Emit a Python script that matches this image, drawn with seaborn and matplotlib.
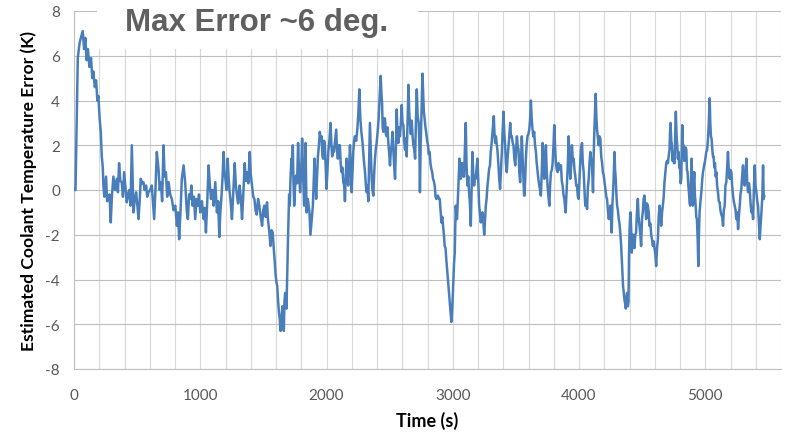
import matplotlib
matplotlib.use("Agg")
import matplotlib.pyplot as plt
import matplotlib.patches as mpatches
from matplotlib.ticker import MultipleLocator
import seaborn as sns
import pandas as pd

# Estimated coolant temperature error over the drive cycle
time_s = [
    0, 12, 30, 45, 69, 80, 90, 100, 110, 122,
    135, 145, 153, 165, 175, 185, 193, 203, 212, 220,
    228, 233, 240, 254, 262, 272, 281, 291, 300, 312,
    325, 339, 348, 357, 367, 378, 388, 397, 408, 418,
    428, 437, 448, 458, 471, 480, 492, 502, 511, 520,
    529, 540, 550, 560, 571, 580, 590, 603, 616, 626,
    635, 645, 656, 670, 679, 688, 698, 709, 718, 728,
    738, 749, 762, 775, 788, 802, 815, 824, 833, 844,
    854, 868, 881, 894,
    902, 912, 921, 930, 939, 950, 960, 971, 981, 990,
    1000, 1013, 1027, 1036, 1045, 1055, 1066, 1075, 1085, 1096,
    1106, 1119, 1132, 1142, 1151, 1159, 1167, 1176, 1185, 1192,
    1199, 1208, 1217, 1225, 1233, 1242, 1251, 1262, 1273, 1282,
    1291, 1300, 1312, 1322, 1331, 1341, 1352, 1361, 1370, 1381,
    1392, 1400, 1410, 1420, 1429, 1438, 1447, 1458, 1468, 1479,
    1490, 1499, 1508, 1518, 1529, 1536, 1542, 1549, 1556, 1565,
    1574, 1582, 1590, 1597, 1603, 1610, 1617, 1624, 1630, 1636,
    1640, 1646, 1651, 1657, 1662, 1667, 1672, 1678, 1683, 1687,
    1691, 1695, 1699, 1704, 1709, 1715, 1722, 1728, 1733, 1738,
    1744, 1752, 1759, 1767, 1775, 1783, 1791, 1799, 1807, 1815,
    1823, 1834, 1842, 1852, 1865, 1873, 1892, 1905, 1912, 1918,
    1925, 1932, 1940, 1947, 1955, 1961, 1968, 1974, 1981, 1987,
    1994, 2000, 2007, 2014, 2023, 2032, 2039, 2045, 2052, 2059,
    2068, 2077, 2083, 2090, 2098, 2106, 2112, 2119, 2126, 2133,
    2140, 2146, 2152, 2159, 2165, 2172, 2179, 2186, 2192, 2199,
    2206, 2212, 2219, 2225, 2235, 2244, 2252, 2260, 2268, 2276,
    2284, 2291, 2298, 2305, 2312, 2318, 2325, 2331, 2338, 2344,
    2351, 2358, 2364, 2371, 2378, 2384, 2390, 2397, 2405, 2413,
    2421, 2429, 2435, 2440, 2445, 2450, 2456, 2463, 2470, 2477,
    2483, 2490, 2497, 2503, 2510, 2516, 2523, 2530, 2537, 2543,
    2550, 2556, 2562, 2569, 2575, 2582, 2589, 2596, 2602, 2609,
    2615, 2622, 2628, 2635, 2642, 2649, 2655, 2662, 2668, 2675,
    2682, 2688, 2695, 2702, 2708, 2715, 2722, 2730, 2735, 2740,
    2746, 2754, 2760, 2765, 2771, 2777, 2784, 2791, 2797, 2804,
    2810, 2817, 2823, 2830, 2837, 2844, 2850, 2857, 2864, 2870,
    2877, 2883, 2890, 2897, 2903, 2910, 2917, 2923, 2930, 2936,
    2943, 2949, 2956, 2963, 2970, 2976, 2982, 2989, 2993, 2997,
    3001, 3005, 3010, 3016, 3020, 3024, 3029, 3034, 3040, 3045,
    3049, 3053, 3058, 3063, 3070, 3076, 3083, 3090, 3096, 3103,
    3109, 3116, 3123, 3129, 3136, 3143, 3149, 3156, 3162, 3169,
    3176, 3182, 3189, 3196, 3202, 3209, 3215, 3222, 3228, 3235,
    3242, 3249, 3255, 3262, 3268, 3275, 3281, 3288, 3295, 3301,
    3308, 3315, 3320, 3325, 3330, 3336, 3342, 3349, 3355, 3362,
    3368, 3375, 3382, 3389, 3395, 3402, 3408, 3415, 3421, 3428,
    3435, 3442, 3448, 3455, 3461, 3468, 3475, 3481, 3488, 3495,
    3501, 3508, 3514, 3521, 3527, 3534, 3540, 3547, 3554, 3561,
    3565, 3569, 3574, 3579, 3585, 3592, 3599, 3606, 3612, 3619,
    3625, 3632, 3638, 3645, 3652, 3659, 3665, 3672, 3678, 3685,
    3692, 3698, 3705, 3712, 3718, 3725, 3731, 3738, 3744, 3751,
    3758, 3765, 3771, 3778, 3785, 3791, 3798, 3804, 3811, 3817,
    3824, 3831, 3837, 3844, 3851, 3857, 3864, 3870, 3877, 3884,
    3889, 3894, 3900, 3905, 3912, 3918, 3925, 3931, 3938, 3944,
    3951, 3958, 3964, 3971, 3978, 3984, 3991, 3997, 4004, 4011,
    4017, 4024, 4030, 4037, 4044, 4050, 4057, 4064, 4070, 4077,
    4083, 4090, 4097, 4103, 4111, 4116, 4122, 4127, 4132, 4138,
    4143, 4150, 4156, 4162, 4169, 4176, 4183, 4189, 4196, 4203,
    4209, 4216, 4222, 4229, 4236, 4242, 4249, 4254, 4259, 4265,
    4270, 4276, 4281, 4286, 4291, 4297, 4302, 4308, 4315, 4321,
    4328, 4334, 4339, 4344, 4349, 4355, 4360, 4366, 4371, 4376,
    4381, 4387, 4392, 4396, 4400, 4404, 4408, 4413, 4418, 4424,
    4429, 4434, 4439, 4446, 4452, 4459, 4466, 4472, 4479, 4486,
    4492, 4499, 4505, 4512, 4518, 4525, 4532, 4538, 4545, 4552,
    4558, 4565, 4572, 4578, 4585, 4592, 4598, 4605, 4611, 4618,
    4625, 4631, 4638, 4645, 4651, 4658, 4664, 4671, 4677, 4684,
    4691, 4697, 4704, 4710, 4717, 4721, 4725, 4731, 4736, 4741,
    4746, 4752, 4757, 4762, 4767, 4773, 4778, 4783, 4789, 4794,
    4799, 4805, 4810, 4814, 4818, 4823, 4828, 4834, 4839, 4845,
    4850, 4855, 4860, 4866, 4871, 4876, 4881, 4887, 4892, 4897,
    4902, 4908, 4913, 4918, 4924, 4929, 4934, 4940, 4945, 4950,
    4955, 4962, 4969, 4975, 4982, 4988, 4995, 5001, 5008, 5015,
    5022, 5028, 5035, 5040, 5045, 5050, 5056, 5061, 5066, 5072,
    5077, 5083, 5088, 5094, 5101, 5107, 5114, 5120, 5127, 5134,
    5141, 5147, 5154, 5160, 5167, 5173, 5180, 5187, 5194, 5200,
    5207, 5213, 5220, 5226, 5233, 5240, 5246, 5253, 5260, 5266,
    5273, 5279, 5286, 5292, 5299, 5306, 5313, 5319, 5326, 5332,
    5339, 5346, 5352, 5359, 5366, 5372, 5379, 5385, 5392, 5398,
    5405, 5412, 5418, 5425, 5432, 5438, 5445, 5452, 5458, 5463,
    5468,
]

error_k = [
    0.0, 0.0, 5.9, 6.6, 7.1, 6.3, 6.8, 5.8, 6.3, 5.5,
    5.9, 5.0, 5.3, 4.6, 4.9, 4.0, 4.2, 3.2, 2.6, 1.5,
    1.0, 0.2, -0.3, 0.6, -0.5, -0.4, -0.2, -1.45, -0.3, 0.6,
    0.0, 0.5, -0.1, 1.2, 0.4, 0.35, -0.3, 0.8, 0.1, -0.55,
    -0.2, 0.0, -0.7, 2.0, -1.0, -0.5, -0.1, -0.7, -1.3, -0.5,
    0.5, 0.3, 0.35, 0.0, 0.2, -0.3, -0.1, 0.0, 0.2, -0.6,
    -1.3, 0.0, 1.7, 0.9, 0.0, 0.35, -0.5, 2.0, 0.6, 0.8,
    -0.3, 0.35, -0.2, -0.4, -0.9, -0.7, -1.6, -1.0, -2.2, -0.9,
    0.5, 1.1, 0.3, -1.0,
    -1.3, -0.2, -0.4, 0.2, -0.7, -0.3, -1.3, -0.4, -0.7, -0.2,
    -1.0, -0.5, -1.3, -0.8, -1.9, -0.6, 1.1, 0.3, -0.4, 0.0,
    -0.7, 0.35, -1.0, -0.5, -2.1, -1.0, -0.4, 0.5, 1.7, 0.8,
    0.5, 0.0, 1.4, 0.5, -0.1, -0.6, -1.3, 0.0, 1.2, 0.2,
    -0.25, -0.6, 0.2, -0.4, -1.3, -0.2, 1.2, 0.4, 0.8, 0.3,
    1.7, 0.7, 0.2, -0.3, -0.4, -0.9, -1.1, -0.4, -0.7, -1.2,
    -1.6, -0.9, -0.7, -1.2, -0.55, -1.3, -1.6, -2.0, -2.5, -1.8,
    -1.9, -2.6, -3.2, -3.8, -4.1, -4.3, -5.0, -5.5, -5.8, -6.3,
    -6.0, -5.6, -5.2, -5.9, -6.3, -5.0, -4.6, -4.8, -5.3, -4.2,
    -3.1, -2.2, -1.3, -0.2, -0.7, 0.5, 1.4, 0.8, 2.0, 0.5,
    -0.7, 0.2, 0.65, 0.3, 2.1, 0.7, -0.1, 0.8, 2.3, 0.6,
    -0.7, 2.1, -1.0, -0.4, -1.0, -2.0, -0.7, 1.4, 0.5, -0.4,
    0.6, 1.5, 2.0, 2.6, 2.2, 2.4, 1.5, 1.4, 2.2, 2.0,
    1.0, 0.05, 0.8, 1.7, 2.2, 3.0, 2.0, 1.5, 1.9, 1.7,
    2.2, 2.7, 1.8, 1.4, 2.0, 2.0, 1.2, 0.8, 1.0, 0.35,
    0.2, -0.5, 0.6, 1.4, 0.8, 0.2, 1.0, 2.0, 1.2, -0.1,
    0.8, 1.7, 2.2, 2.4, 2.2, 2.7, 3.4, 4.5, 3.2, 2.6,
    2.2, 1.7, 1.2, 0.8, 0.2, -0.1, 0.2, -0.5, 1.5, 3.0,
    1.8, 0.5, 0.0, -0.25, 0.8, 1.4, 1.8, 2.1, 2.6, 3.2,
    4.2, 5.1, 4.3, 3.9, 2.8, 2.6, 3.2, 3.2, 2.5, 2.4,
    2.8, 2.1, 1.6, 1.1, 1.8, 2.0, 2.6, 1.7, 1.0, 0.5,
    2.0, 3.6, 2.5, 2.1, 2.8, 2.4, 3.0, 3.8, 3.0, 2.9,
    2.2, 1.8, 2.3, 1.5, 3.0, 4.7, 3.5, 2.9, 2.5, 3.1,
    2.4, 2.0, 1.8, 1.4, 3.0, 4.5, 3.3, 3.0, 2.2, -0.1,
    2.0, 3.9, 5.2, 4.4, 3.5, 3.2, 2.8, 2.5, 2.2, 2.0,
    1.6, 1.7, 1.2, 0.95, 0.8, 0.5, 0.4, 0.2, -0.3, -0.4,
    -0.3, -0.25, -0.4, -0.4, -0.9, -1.45, -1.2, -1.6, -2.0, -2.5,
    -2.6, -3.1, -3.6, -4.1, -4.6, -5.0, -5.4, -5.9, -5.6, -5.2,
    -4.6, -4.1, -3.3, -2.8, -1.6, -0.7, -1.2, -1.3, -0.5, 0.2,
    0.8, 1.4, 0.9, 0.5, 1.2, 1.2, 0.6, 0.6, 1.8, 3.0,
    1.2, 0.2, 0.6, -0.1, -0.6, -1.6, 0.0, 1.7, 0.8, 0.2,
    0.6, 0.5, 1.0, 1.4, 0.4, -0.7, -1.0, -1.45, -1.2, -1.0,
    -1.4, -2.0, -1.4, -0.7, -0.4, 0.2, 0.5, 0.95, 1.1, 1.7,
    2.1, 2.6, 2.9, 3.3, 2.6, 2.1, 2.4, 2.0, 1.7, 1.1,
    0.5, 0.05, 0.9, 1.7, 2.6, 3.5, 2.6, 2.0, 1.2, 0.8,
    1.5, 2.0, 2.4, 3.0, 2.4, 2.4, 2.1, 2.0, 1.4, 1.1,
    1.7, 2.4, 2.0, 1.8, 0.8, 0.35, 1.2, 2.4, 1.4, 0.5,
    -0.25, -0.25, 0.5, 1.4, 2.0, 2.4, 2.5, 2.7, 3.1, 4.0,
    3.2, 2.7, 2.4, 2.6, 2.0, 1.7, 1.2, 0.8, 0.5, 0.2,
    0.0, -0.25, 0.8, 2.1, 1.1, 0.5, 1.3, 2.0, 0.9, 0.2,
    -0.3, -0.7, 0.2, 0.8, 0.9, 1.2, 2.0, 2.9, 1.9, 1.2,
    0.9, 0.8, 1.2, 1.1, 0.9, 1.1, 0.4, 0.2, -0.2, -0.4,
    -0.7, -1.0, -0.3, 0.2, 1.2, 2.4, 1.2, 0.5, 1.1, 2.0,
    1.3, 1.4, 0.9, 0.6, 0.2, 0.2, -0.3, -0.4, 0.5, 1.4,
    1.9, 2.1, 1.2, 0.8, -0.1, -0.7, -0.5, -0.85, 0.1, 0.5,
    1.2, 1.7, 1.3, 1.1, -0.1, 1.5, 2.7, 3.5, 4.3, 3.2,
    2.7, 2.3, 2.0, 2.4, 2.3, 1.5, 1.2, 0.8, 0.65, 0.3,
    0.05, -0.3, -0.4, -0.9, -1.3, -1.0, -0.7, -1.3, -1.9, -0.6,
    -0.1, 0.8, 1.7, 0.9, 0.5, -0.3, -0.7, -0.9, -1.3, -1.5,
    -2.0, -2.5, -3.1, -3.6, -4.3, -4.6, -4.9, -5.1, -5.3, -4.8,
    -4.6, -5.2, -5.0, -3.0, -1.9, -1.3, -1.0, -1.7, -2.8, -2.0,
    -2.0, -2.3, -2.6, -2.0, -1.9, -1.0, -0.4, -1.2, -1.6, -2.0,
    -2.5, -1.3, -1.0, -0.4, -0.25, -0.8, -1.3, -0.6, -0.7, -1.0,
    -1.6, -1.5, -2.0, -2.2, -2.5, -2.3, -2.6, -2.9, -3.4, -2.6,
    -2.2, -1.2, -0.7, -1.0, -1.6, -1.0, -0.7, -0.3, 0.35, 0.8,
    1.2, 1.3, 1.2, 1.5, 1.8, 2.6, 3.0, 2.2, 2.0, 1.3,
    1.7, 1.2, 1.2, 2.5, 3.5, 2.4, 2.0, 1.4, 1.7, 1.0,
    1.2, 0.3, 0.5, 1.8, 2.9, 2.0, 2.0, 1.3, 1.4, 1.9,
    1.8, 0.9, 0.8, 0.2, -0.1, -0.6, -0.7, 0.5, 1.4, 0.2,
    -0.7, 0.3, 0.8, -0.2, -0.7, -1.2, -1.3, -2.2, -3.4, -2.0,
    -1.0, -0.5, -0.1, 0.4, 0.8, 1.0, 1.2, 1.4, 1.7, 1.8,
    2.3, 3.0, 4.1, 3.0, 2.4, 2.3, 1.8, 1.5, 1.5, 1.0,
    1.2, 0.6, 0.8, 0.2, -0.1, -0.5, -0.55, -0.9, -1.1, -1.2,
    -1.6, -0.9, -0.7, 0.2, 0.35, 1.0, 1.7, 0.8, 0.5, 0.9,
    0.8, 0.2, -0.25, -0.5, -0.7, -0.9, -1.3, -1.0, -1.75, -1.2,
    -0.7, -0.2, 0.05, 0.6, 1.1, 0.3, 0.2, 0.7, 1.4, 0.4,
    -0.1, 0.3, 0.05, -0.6, -1.0, -0.8, -1.3, 0.0, 1.1, 0.2,
    -0.1, -0.5, -0.7, -1.5, -2.2, -1.6, -1.0, -0.3, 1.1, -0.4,
    -0.25,
]

x_ticks = [0, 1000, 2000, 3000, 4000, 5000]
y_ticks = [-8, -6, -4, -2, 0, 2, 4, 6, 8]
title_text = "Max Error ~6 deg."
x_label = "Time (s)"
y_label = "Estimated Coolant Temperature Error (K)"

assert len(time_s) == len(error_k), (len(time_s), len(error_k))
df = pd.DataFrame({"time": time_s, "error": error_k})

sns.set_style("white")
plt.rcParams["font.family"] = ["Lato", "DejaVu Sans"]
plt.rcParams["axes.unicode_minus"] = False

fig = plt.figure(figsize=(7.86, 4.35), dpi=100)
ax = fig.add_axes([74 / 786, 1 - 370 / 435, (781 - 74) / 786, (370 - 12) / 435])

sns.lineplot(data=df, x="time", y="error", ax=ax, color="#4a7ebb",
             linewidth=1.8, estimator=None, sort=False, zorder=3)

ax.set_xlim(0, 5600)
ax.set_ylim(-8, 8)
ax.set_xticks(x_ticks)
ax.xaxis.set_minor_locator(MultipleLocator(200))
ax.set_yticks(y_ticks)
ax.set_yticklabels([str(v) for v in y_ticks])

ax.grid(False)
for xv in range(0, 5601, 200):
    ax.axvline(xv, color="#d9d9d9", linewidth=0.8, zorder=1)
for yv in y_ticks:
    ax.axhline(yv, color="#bfbfbf", linewidth=0.8, zorder=1)

for side in ("top", "right"):
    ax.spines[side].set_visible(False)
for side in ("left", "bottom"):
    ax.spines[side].set_color("#bfbfbf")
    ax.spines[side].set_linewidth(0.8)

ax.tick_params(axis="both", which="both", direction="out", color="#bfbfbf",
               width=0.8, labelcolor="#595959", labelsize=11)
ax.tick_params(axis="x", which="major", length=5, pad=9)
ax.tick_params(axis="x", which="minor", length=5)
ax.tick_params(axis="y", length=5, pad=5)

ax.set_xlabel(x_label, fontsize=13, fontweight="bold", color="black", labelpad=6)
ax.set_ylabel(y_label, fontsize=12.6, fontweight="bold", color="black", labelpad=6)

# White callout box carrying the headline
fig.patches.append(mpatches.Rectangle((97 / 786, 1 - 50 / 435), (418 - 97) / 786, 50 / 435,
                                      transform=fig.transFigure, facecolor="white",
                                      edgecolor="none", zorder=5))
fig.text(257 / 786, 1 - 23 / 435, title_text, ha="center", va="center",
         fontsize=22.5, fontweight="bold", color="#606060",
         family=["Liberation Sans", "DejaVu Sans"], zorder=6)

fig.savefig("out.png", dpi=100, facecolor="white")
